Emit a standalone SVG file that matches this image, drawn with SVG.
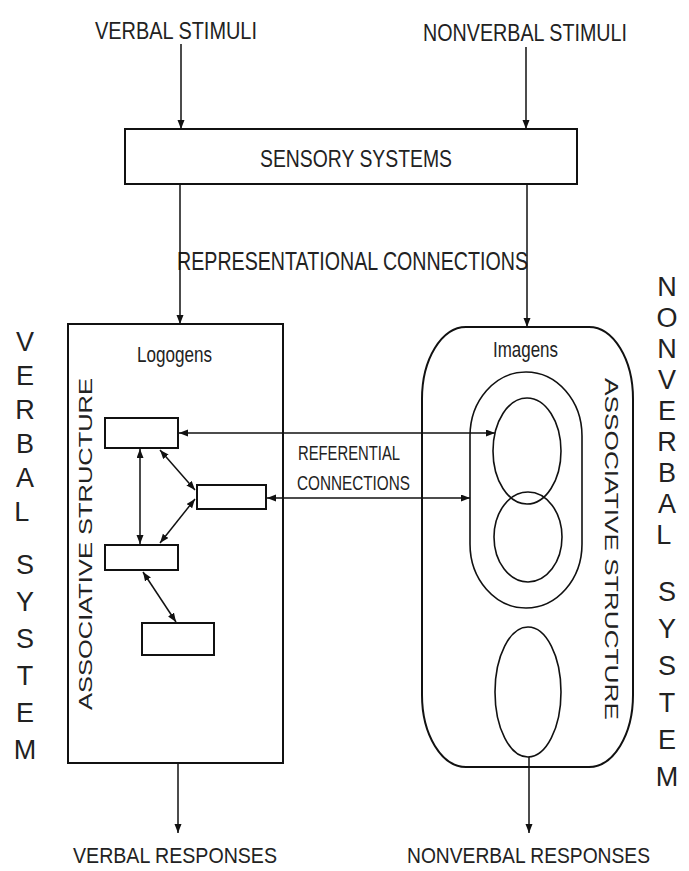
<svg xmlns="http://www.w3.org/2000/svg" width="689" height="871" viewBox="0 0 689 871">
<style>
  .t { font-family: "Liberation Sans", Arial, sans-serif; fill: #222; }
  .box { fill: none; stroke: #111; stroke-width: 2; }
  .thin { fill: none; stroke: #111; stroke-width: 1.6; }
  .arr { fill: none; stroke: #111; stroke-width: 1.5; }
  .big { font-size: 27px; text-anchor: middle; }
</style>
<defs>
  <marker id="ah" markerUnits="userSpaceOnUse" markerWidth="10" markerHeight="8" refX="9" refY="3.5" orient="auto-start-reverse">
    <path d="M0,0 L9,3.5 L0,7 z" fill="#111"/>
  </marker>
</defs>
<rect width="689" height="871" fill="#fff"/>

<g id="verbal-stimuli"><text class="t" x="95" y="39" font-size="23" textLength="162" lengthAdjust="spacingAndGlyphs">VERBAL STIMULI</text></g>
<g id="nonverbal-stimuli"><text class="t" x="423" y="41" font-size="23" textLength="204" lengthAdjust="spacingAndGlyphs">NONVERBAL STIMULI</text></g>

<g id="sensory-systems">
  <rect class="box" x="125" y="129" width="452" height="55"/>
  <text class="t" x="260" y="167" font-size="23" textLength="192" lengthAdjust="spacingAndGlyphs">SENSORY SYSTEMS</text>
</g>

<g id="representational-label"><text class="t" x="177" y="270" font-size="25" textLength="351" lengthAdjust="spacingAndGlyphs">REPRESENTATIONAL CONNECTIONS</text></g>

<g id="verbal-system-label">
  <text class="t big" x="25">
    <tspan x="25" y="351">V</tspan><tspan x="25" y="385">E</tspan><tspan x="25" y="419">R</tspan><tspan x="25" y="453">B</tspan><tspan x="25" y="487">A</tspan><tspan x="25" y="521">L</tspan>
    <tspan x="25" y="574">S</tspan><tspan x="25" y="611">Y</tspan><tspan x="25" y="648">S</tspan><tspan x="25" y="685">T</tspan><tspan x="25" y="722">E</tspan><tspan x="25" y="759">M</tspan>
  </text>
</g>

<g id="nonverbal-system-label">
  <text class="t big" x="667">
    <tspan x="667" y="296">N</tspan><tspan x="667" y="327">O</tspan><tspan x="667" y="358">N</tspan><tspan x="667" y="389">V</tspan><tspan x="667" y="420">E</tspan><tspan x="667" y="451">R</tspan><tspan x="667" y="482">B</tspan><tspan x="667" y="513">A</tspan><tspan x="667" y="544">L</tspan>
    <tspan x="667" y="601">S</tspan><tspan x="667" y="638">Y</tspan><tspan x="667" y="675">S</tspan><tspan x="667" y="712">T</tspan><tspan x="667" y="749">E</tspan><tspan x="667" y="786">M</tspan>
  </text>
</g>

<g id="verbal-system">
  <rect class="box" x="68" y="324" width="215" height="439"/>
  <text class="t" x="137" y="362" font-size="22" textLength="75" lengthAdjust="spacingAndGlyphs">Logogens</text>
  <text class="t" transform="translate(92,544) rotate(-90)" text-anchor="middle" font-size="18" textLength="332" lengthAdjust="spacingAndGlyphs">ASSOCIATIVE STRUCTURE</text>
</g>
<g id="logogen-1"><rect class="box" x="105" y="418" width="73" height="30"/></g>
<g id="logogen-2"><rect class="box" x="197" y="485" width="69" height="24"/></g>
<g id="logogen-3"><rect class="box" x="105" y="545" width="73" height="25"/></g>
<g id="logogen-4"><rect class="box" x="142" y="623" width="72" height="32"/></g>

<g id="nonverbal-system">
  <rect class="box" x="422" y="327" width="211" height="440" rx="44" ry="72"/>
  <text class="t" x="493" y="357" font-size="22" textLength="65" lengthAdjust="spacingAndGlyphs">Imagens</text>
  <text class="t" transform="translate(605,549) rotate(90)" text-anchor="middle" font-size="18" textLength="342" lengthAdjust="spacingAndGlyphs">ASSOCIATIVE STRUCTURE</text>
</g>
<g id="imagen-group"><rect class="thin" x="470" y="372" width="112" height="236" rx="56" ry="64"/></g>
<g id="imagen-1"><ellipse class="thin" cx="527" cy="451" rx="34" ry="53"/></g>
<g id="imagen-2"><ellipse class="thin" cx="528" cy="537" rx="34" ry="45"/></g>
<g id="imagen-3"><ellipse class="thin" cx="528" cy="692" rx="33" ry="65"/></g>

<g id="referential-label">
  <text class="t" x="298" y="460" font-size="21" textLength="102" lengthAdjust="spacingAndGlyphs">REFERENTIAL</text>
  <text class="t" x="297" y="490" font-size="21" textLength="113" lengthAdjust="spacingAndGlyphs">CONNECTIONS</text>
</g>

<g id="verbal-responses"><text class="t" x="73" y="863" font-size="22" textLength="204" lengthAdjust="spacingAndGlyphs">VERBAL RESPONSES</text></g>
<g id="nonverbal-responses"><text class="t" x="407" y="863" font-size="22" textLength="243" lengthAdjust="spacingAndGlyphs">NONVERBAL RESPONSES</text></g>

<g id="connectors">
  <line class="arr" x1="181" y1="44" x2="181" y2="129" marker-end="url(#ah)"/>
  <line class="arr" x1="526" y1="47" x2="526" y2="129" marker-end="url(#ah)"/>
  <line class="arr" x1="180" y1="184" x2="180" y2="324" marker-end="url(#ah)"/>
  <line class="arr" x1="527" y1="184" x2="527" y2="327" marker-end="url(#ah)"/>
  <line class="arr" x1="179" y1="433" x2="495" y2="433" marker-start="url(#ah)" marker-end="url(#ah)"/>
  <line class="arr" x1="267" y1="498" x2="470" y2="498" marker-start="url(#ah)" marker-end="url(#ah)"/>
  <line class="arr" x1="140" y1="449" x2="140" y2="544" marker-start="url(#ah)" marker-end="url(#ah)"/>
  <line class="arr" x1="160" y1="450" x2="195" y2="490" marker-start="url(#ah)" marker-end="url(#ah)"/>
  <line class="arr" x1="195" y1="499" x2="160" y2="543" marker-start="url(#ah)" marker-end="url(#ah)"/>
  <line class="arr" x1="143" y1="572" x2="176" y2="622" marker-start="url(#ah)" marker-end="url(#ah)"/>
  <line class="arr" x1="178" y1="763" x2="178" y2="833" marker-end="url(#ah)"/>
  <line class="arr" x1="529" y1="757" x2="529" y2="833" marker-end="url(#ah)"/>
</g>
</svg>
